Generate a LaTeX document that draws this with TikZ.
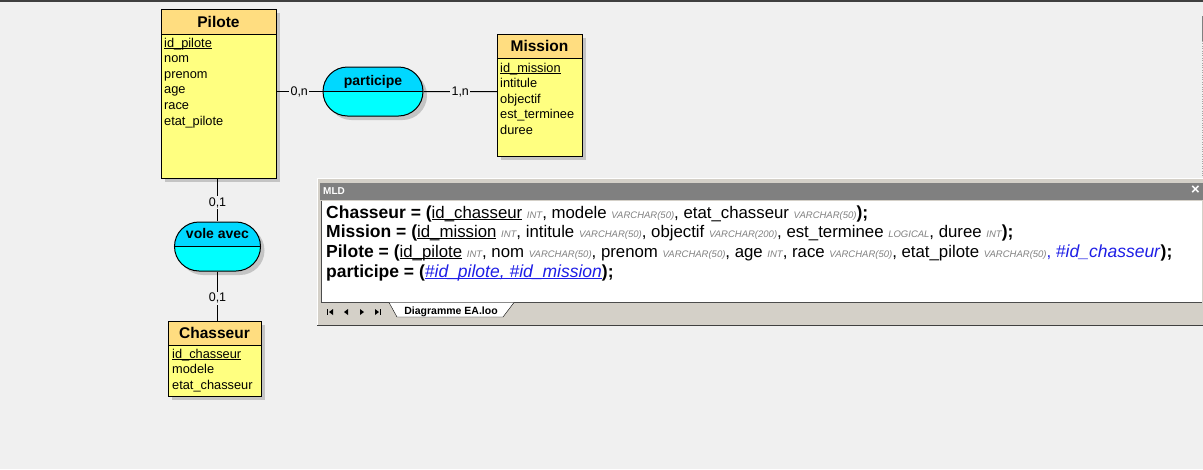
\documentclass[tikz,border=0pt]{standalone}
\usepackage{fontspec}
\setmainfont{Liberation Sans}
\usetikzlibrary{positioning,shapes.misc,shadows}

\definecolor{bgcol}{HTML}{F0F0F0}
\definecolor{topcol}{HTML}{404040}
\definecolor{entheadcol}{HTML}{FFDD80}
\definecolor{entbodycol}{HTML}{FFFF80}
\definecolor{assocheadcol}{HTML}{00D8FF}
\definecolor{assocbodycol}{HTML}{00FFFF}
\definecolor{shadowcol}{HTML}{C4C4C4}
\definecolor{framecol}{HTML}{D4D0C8}
\definecolor{titlecol}{HTML}{808080}
\definecolor{typecol}{HTML}{808080}
\definecolor{fkcol}{HTML}{1E1EE6}

\newsavebox{\keybox}
\newcommand{\keyattr}[1]{\sbox{\keybox}{#1}\rlap{\rule[-1.6pt]{\wd\keybox}{1pt}}\usebox{\keybox}}
\newcommand{\sqltype}[1]{{\fontsize{9.5}{10}\selectfont\itshape\color{typecol}#1}}
\newcommand{\mldbold}[1]{{\fontsize{17.5}{20}\selectfont\bfseries#1}}

\tikzset{
	boxshadow/.style={drop shadow={shadow xshift=4pt, shadow yshift=-4pt, fill=shadowcol, opacity=1}},
	entity/.style={draw, line width=1pt, inner sep=0pt, outer sep=0pt, boxshadow},
	enthead/.style={entity, fill=entheadcol, font=\fontsize{15.5}{18}\selectfont\bfseries},
	entbody/.style={entity, fill=entbodycol},
	attr/.style={anchor=base west, inner sep=0pt, font=\fontsize{12.8}{15}\selectfont},
	assoc/.style={rounded rectangle, draw, line width=1pt, inner sep=0pt, minimum height=49pt,
		fill=assocbodycol, boxshadow,
		path picture={
			\fill[assocheadcol] (path picture bounding box.north west) rectangle (path picture bounding box.east);
			\draw[line width=1pt] (path picture bounding box.west) -- (path picture bounding box.east);
		}},
	assoclabel/.style={anchor=base, inner sep=0pt, font=\fontsize{14}{16}\selectfont\bfseries},
	card/.style={fill=bgcol, inner sep=1.5pt, font=\fontsize{12.5}{14}\selectfont},
	link/.style={line width=1pt},
	mldline/.style={anchor=base west, inner sep=0pt, font=\fontsize{16.8}{20}\selectfont},
}

\begin{document}
\begin{tikzpicture}[x=1pt, y=-1pt]
	\fill[bgcol] (0,0) rectangle (1203,469);
	\useasboundingbox (0,0) rectangle (1203,469);
	\fill[topcol] (0,0) rectangle (1203,1.5);
	\draw[gray] (1202.5,16) -- (1202.5,41);
	\draw[gray!70, dotted] (1202.5,41) -- (1202.5,178);

	% entities
	\node[enthead, anchor=north west, minimum width=115pt, minimum height=25pt] (pilote) at (161,9) {Pilote};
	\node[entbody, below=0pt of pilote, minimum width=115pt, minimum height=144pt] (pilotebody) {};
	\node[attr] (pilote-key) at (164,47) {\keyattr{id\_pilote}};
	\foreach \a [count=\i] in {nom,prenom,age,race,etat\_pilote}
		\node[attr] (pilote-\i) at (164,{47+15.6*\i}) {\a};

	\node[enthead, anchor=north west, minimum width=85pt, minimum height=24pt] (mission) at (497,34) {Mission};
	\node[entbody, below=0pt of mission, minimum width=85pt, minimum height=98pt] (missionbody) {};
	\node[attr] (mission-key) at (500,72) {\keyattr{id\_mission}};
	\foreach \a [count=\i] in {intitule,objectif,est\_terminee,duree}
		\node[attr] (mission-\i) at (500,{72+15.5*\i}) {\a};

	\node[enthead, anchor=north west, minimum width=93pt, minimum height=24pt] (chasseur) at (168,321) {Chasseur};
	\node[entbody, below=0pt of chasseur, minimum width=93pt, minimum height=51pt] (chasseurbody) {};
	\node[attr] (chasseur-key) at (172,358) {\keyattr{id\_chasseur}};
	\foreach \a [count=\i] in {modele,etat\_chasseur}
		\node[attr] (chasseur-\i) at (172,{358+15.8*\i}) {\a};

	% associations
	\node[assoc, minimum width=100pt] (participe) at (373,91.5) {};
	\node[assoclabel] (participe-name) at (373,85) {participe};
	\node[assoc, minimum width=86pt] (voleavec) at (217.5,246.5) {};
	\node[assoclabel] (voleavec-name) at (217.5,238) {vole avec};

	\path [link]
	(pilotebody.east |- participe) edge node [card] {0,n} (participe)
	(participe) edge node [card] {1,n} (missionbody.west |- participe)
	(voleavec.north |- pilotebody.south) edge node [card, pos=0.57] {0,1} (voleavec)
	(voleavec) edge node [card, pos=0.54] {0,1} (voleavec.south |- chasseur.north);

	% MLD window
	\fill[framecol] (317,178) rectangle (1203,326);
	\draw[white] (317.5,326) -- (317.5,178.5) -- (1203,178.5);
	\draw[topcol] (317,325.5) -- (1203,325.5);
	\fill[titlecol] (320,183) rectangle (1203,200);
	\node[anchor=base west, inner sep=0pt, text=white, font=\fontsize{10}{12}\selectfont\bfseries] (mldtitle) at (323,194.5) {MLD};
	\node[inner sep=0pt, text=white, font=\fontsize{15}{16}\selectfont\bfseries] (mldclose) at (1195.5,190.5) {×};
	\fill[white] (322,201) rectangle (1201.5,302);
	\draw[gray!60!black] (321.5,201) -- (321.5,302.5) -- (1201.5,302.5);

	\node[mldline] (mld-chasseur) at (326,218) {\mldbold{Chasseur = (}\keyattr{id\_chasseur} \sqltype{INT}, modele \sqltype{VARCHAR(50)}, etat\_chasseur \sqltype{VARCHAR(50)}\mldbold{);}};
	\node[mldline] (mld-mission) at (326,237.5) {\mldbold{Mission = (}\keyattr{id\_mission} \sqltype{INT}, intitule \sqltype{VARCHAR(50)}, objectif \sqltype{VARCHAR(200)}, est\_terminee \sqltype{LOGICAL}, duree \sqltype{INT}\mldbold{);}};
	\node[mldline] (mld-pilote) at (326,257.5) {\mldbold{Pilote = (}\keyattr{id\_pilote} \sqltype{INT}, nom \sqltype{VARCHAR(50)}, prenom \sqltype{VARCHAR(50)}, age \sqltype{INT}, race \sqltype{VARCHAR(50)}, etat\_pilote \sqltype{VARCHAR(50)}{\color{fkcol}, \fontsize{17.5}{20}\selectfont\textit{\#id\_chasseur}}\mldbold{);}};
	\node[mldline] (mld-participe) at (326,277) {\mldbold{participe = (}{\fontsize{17.5}{20}\selectfont\color{fkcol}\keyattr{\itshape\#id\_pilote, \#id\_mission}}\mldbold{);}};

	% tab bar
	\filldraw[fill=white, draw=black] (389,302.5) -- (397,317) -- (503,317) -- (514,302.5);
	\node[anchor=base, inner sep=0pt, font=\fontsize{10.5}{12}\selectfont\bfseries] (tabname) at (451,314.3) {Diagramme EA.loo};
	\fill (327,309) rectangle (328.2,315);
	\fill (333,309) -- (329,312) -- (333,315) -- cycle;
	\fill (348,309) -- (344,312) -- (348,315) -- cycle;
	\fill (360,309) -- (364,312) -- (360,315) -- cycle;
	\fill (375,309) -- (379,312) -- (375,315) -- cycle;
	\fill (379.8,309) rectangle (381,315);
\end{tikzpicture}
\end{document}
